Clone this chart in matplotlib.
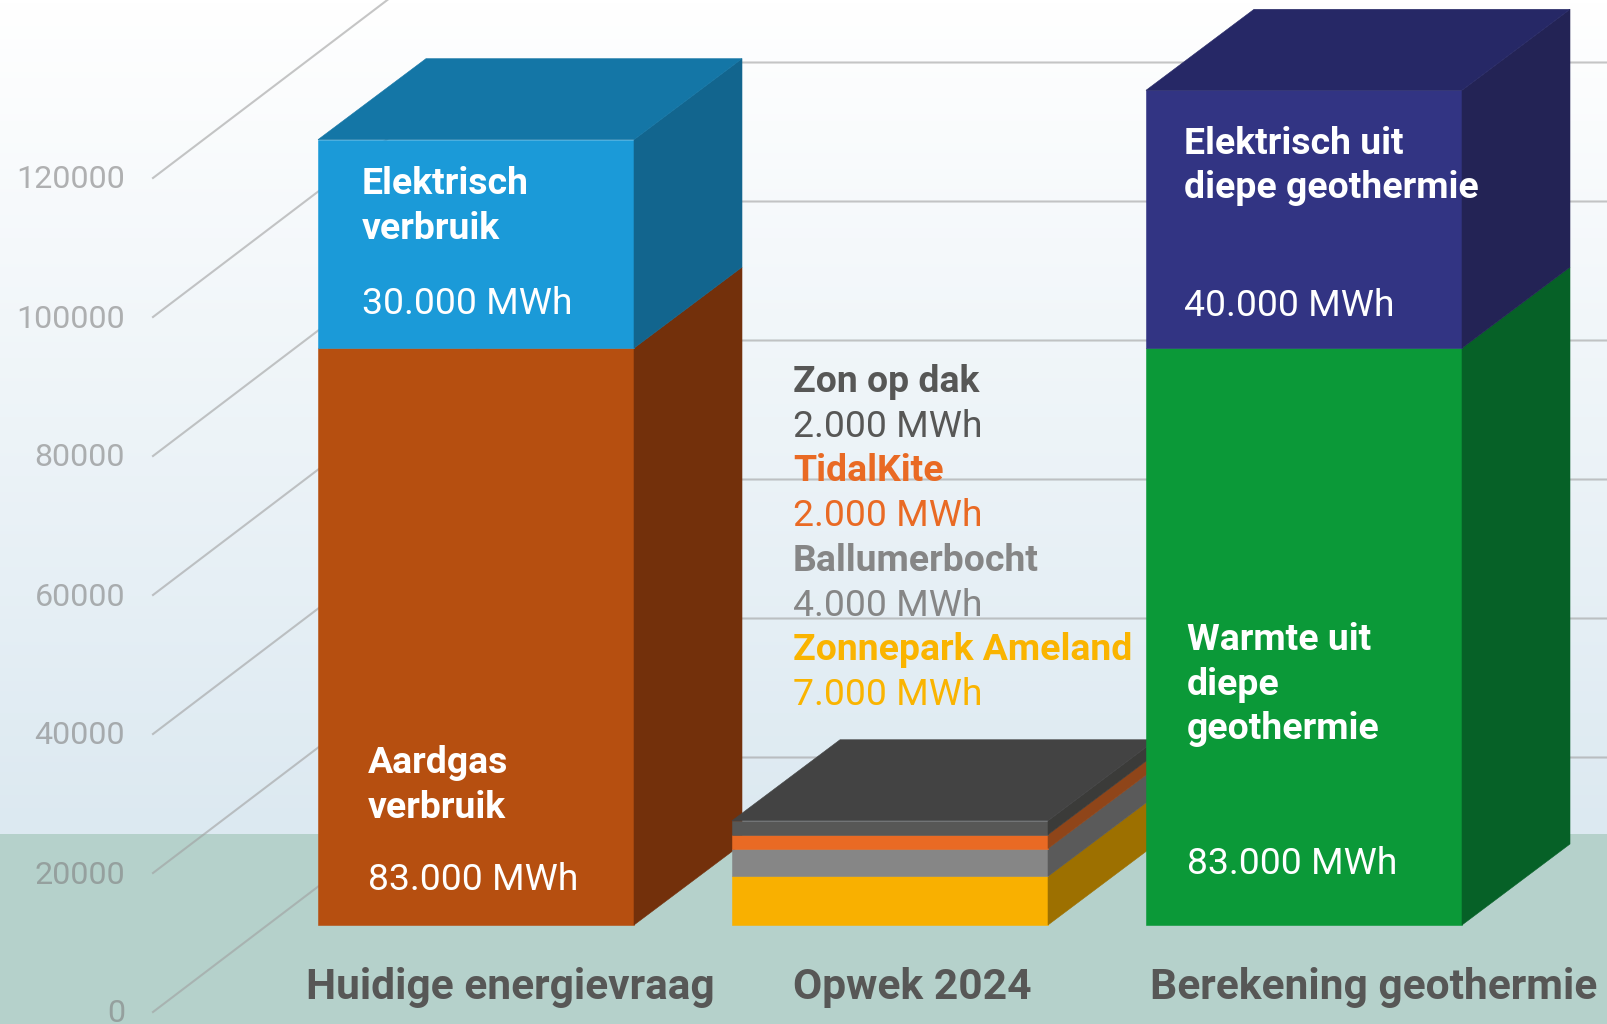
import matplotlib
matplotlib.use("Agg")
import matplotlib.pyplot as plt
import numpy as np

plt.rcParams["font.family"] = ["Roboto", "DejaVu Sans"]

# Data
categories = ["Huidige energievraag", "Opwek 2024", "Berekening geothermie"]
y_ticks = [0, 20000, 40000, 60000, 80000, 100000, 120000]

demand_values = [83000, 30000]
demand_labels = ["83.000 MWh", "30.000 MWh"]
demand_front = ["#b64f10", "#1b9ad8"]
demand_side = ["#73300b", "#12658e"]

supply_names = ["Zonnepark Ameland", "Ballumerbocht", "TidalKite", "Zon op dak"]
supply_values = [7000, 4000, 2000, 2000]
supply_labels = ["7.000 MWh", "4.000 MWh", "2.000 MWh", "2.000 MWh"]
supply_front = ["#f9b000", "#868686", "#e96a24", "#575756"]
supply_side = ["#9d7000", "#5a5a5a", "#8f4519", "#3b3b39"]
supply_text = ["#fab400", "#868686", "#e96a24", "#575756"]

# the blue block is drawn lower than its 40.000 label says
geo_values = [83000, 37100]
geo_labels = ["83.000 MWh", "40.000 MWh"]
geo_front = ["#0b9938", "#323483"]
geo_side = ["#066127", "#232355"]

W, H = 1607, 1024
PX_PER_MWH = 0.00695
BASE_PX = 925
STEP_PX = 414
BAR_W = 316 / STEP_PX
DEPTH_X = 108 / STEP_PX
DEPTH_Y = 81 / PX_PER_MWH


def draw_stack(ax, i, values, front, side, top_color):
    x0 = i - BAR_W / 2
    x1 = i + BAR_W / 2
    bottom = 0
    for v, f, s in zip(values, front, side):
        ax.fill([x0, x1, x1, x0], [bottom, bottom, bottom + v, bottom + v], color=f, lw=0.4, zorder=3 + i)
        ax.fill([x1, x1 + DEPTH_X, x1 + DEPTH_X, x1],
                [bottom, bottom + DEPTH_Y, bottom + v + DEPTH_Y, bottom + v], color=s, lw=0.4, zorder=3 + i)
        bottom += v
    ax.fill([x0, x1, x1 + DEPTH_X, x0 + DEPTH_X],
            [bottom, bottom, bottom + DEPTH_Y, bottom + DEPTH_Y], color=top_color, lw=0.4, zorder=3 + i)


def label(ax, px, py, text, bold=True, color="white", size=26.9):
    # px, py are pixel positions of the text start and baseline
    ax.text(px / W, 1 - py / H, text, transform=ax.transAxes, color=color, fontsize=size,
            fontweight="bold" if bold else "normal", ha="left", va="baseline", zorder=10)


fig = plt.figure(figsize=(W / 100, H / 100), dpi=100)
ax = fig.add_axes([0, 0, 1, 1])
x_min = (0 - 476) / STEP_PX
x_max = (W - 476) / STEP_PX
y_min = (BASE_PX - H) / PX_PER_MWH
y_max = BASE_PX / PX_PER_MWH

# Background gradient and floor
floor_top = (BASE_PX - 834) / PX_PER_MWH
top_rgb = np.array([255, 255, 255]) / 255
bot_rgb = np.array([220, 233, 241]) / 255
t = np.linspace(0, 1, 256)[:, None, None]
grad = top_rgb[None, None, :] * (1 - t) + bot_rgb[None, None, :] * t
ax.imshow(grad, extent=[x_min, x_max, floor_top, y_max], aspect="auto", zorder=0)
ax.axhspan(y_min, floor_top, color="#b5d1cb", lw=0, zorder=1)

# Grid: diagonal on the side wall, then flat along the back wall
front_x = (153 - 476) / STEP_PX
back_x = (488 - 476) / STEP_PX
front_dy = (BASE_PX - 1012) / PX_PER_MWH
back_dy = (BASE_PX - 757.5) / PX_PER_MWH
for tick in y_ticks:
    ax.plot([front_x, back_x, x_max], [tick + front_dy, tick + back_dy, tick + back_dy],
            color="#a0a0a0", alpha=0.6, lw=1.5, zorder=2, solid_joinstyle="miter")
    ax.text(125 / W, 1 - (1022.5 - tick * PX_PER_MWH) / H, str(tick), transform=ax.transAxes,
            color="#808080", alpha=0.6, fontsize=23.2, ha="right", va="baseline", zorder=2)

# Bars
draw_stack(ax, 0, demand_values, demand_front, demand_side, "#1476a6")
draw_stack(ax, 1, supply_values, supply_front, supply_side, "#434343")
draw_stack(ax, 2, geo_values, geo_front, geo_side, "#262866")

ax.set_xlim(x_min, x_max)
ax.set_ylim(y_min, y_max)
ax.axis("off")

# Labels in the bars
label(ax, 362, 194, "Elektrisch")
label(ax, 362, 239, "verbruik")
label(ax, 362, 314, demand_labels[1], bold=False)
label(ax, 367.5, 773, "Aardgas")
label(ax, 367.5, 818, "verbruik")
label(ax, 367.5, 889.5, demand_labels[0], bold=False)

label(ax, 1184, 153.5, "Elektrisch uit")
label(ax, 1184, 198.5, "diepe geothermie")
label(ax, 1184, 315.5, geo_labels[1], bold=False)
label(ax, 1187, 650, "Warmte uit")
label(ax, 1187, 695, "diepe")
label(ax, 1187, 739, "geothermie")
label(ax, 1187, 873.5, geo_labels[0], bold=False)

# Labels above the middle bar, top to bottom
baseline = 392
for name, val, c in zip(supply_names[::-1], supply_labels[::-1], supply_text[::-1]):
    label(ax, 793, baseline, name, color=c)
    label(ax, 793, baseline + 44.7, val, bold=False, color=c)
    baseline += 89.4

# Category labels
for px, cat in zip([306.5, 793, 1150], categories):
    label(ax, px, 999, cat, color="#575756", size=30.6)

fig.savefig("out.png", dpi=100)
